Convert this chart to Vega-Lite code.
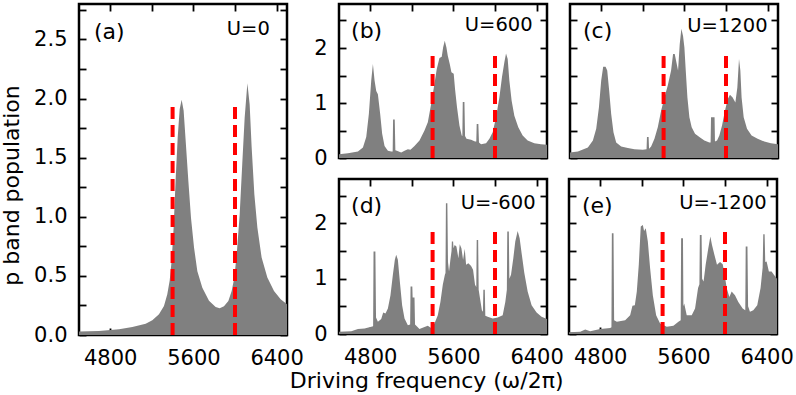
{
  "$schema": "https://vega.github.io/schema/vega-lite/v6.json",
  "autosize": {"type": "pad"},
  "padding": {"left": -2, "top": -3, "right": 0, "bottom": 0},
  "background": "white",
  "title": {"text": "Driving frequency (ω/2π)", "orient": "bottom", "anchor": "middle", "dx": 30, "offset": 2, "fontSize": 22, "font": "DejaVu Sans", "fontWeight": "normal", "color": "#000000"},
  "datasets": {
    "a": [{"f":4500,"p":0.03},{"f":4692,"p":0.034},{"f":4885,"p":0.048},{"f":5013,"p":0.068},{"f":5141,"p":0.096},{"f":5205,"p":0.124},{"f":5269,"p":0.175},{"f":5317,"p":0.246},{"f":5349,"p":0.345},{"f":5372,"p":0.46},{"f":5391,"p":0.63},{"f":5410,"p":0.91},{"f":5429,"p":1.31},{"f":5449,"p":1.67},{"f":5468,"p":1.91},{"f":5487,"p":1.99},{"f":5506,"p":1.9},{"f":5526,"p":1.64},{"f":5551,"p":1.31},{"f":5577,"p":0.99},{"f":5606,"p":0.74},{"f":5638,"p":0.54},{"f":5686,"p":0.4},{"f":5750,"p":0.29},{"f":5814,"p":0.237},{"f":5853,"p":0.226},{"f":5894,"p":0.243},{"f":5936,"p":0.288},{"f":5968,"p":0.373},{"f":5994,"p":0.486},{"f":6019,"p":0.71},{"f":6045,"p":1.02},{"f":6070,"p":1.45},{"f":6093,"p":1.84},{"f":6119,"p":2.13},{"f":6141,"p":1.95},{"f":6160,"p":1.59},{"f":6186,"p":1.19},{"f":6215,"p":0.91},{"f":6256,"p":0.655},{"f":6311,"p":0.486},{"f":6375,"p":0.373},{"f":6439,"p":0.302},{"f":6500,"p":0.26}],
    "b": [{"f":4500,"p":0.07},{"f":4586,"p":0.085},{"f":4682,"p":0.12},{"f":4730,"p":0.19},{"f":4762,"p":0.38},{"f":4787,"p":0.8},{"f":4810,"p":1.41},{"f":4826,"p":1.71},{"f":4842,"p":1.41},{"f":4858,"p":1.22},{"f":4874,"p":1.16},{"f":4896,"p":0.8},{"f":4915,"p":0.44},{"f":4938,"p":0.22},{"f":4970,"p":0.13},{"f":5002,"p":0.12},{"f":5016,"p":0.12},{"f":5020,"p":0.7},{"f":5036,"p":0.7},{"f":5042,"p":0.14},{"f":5056,"p":0.13},{"f":5098,"p":0.1},{"f":5130,"p":0.13},{"f":5162,"p":0.16},{"f":5187,"p":0.15},{"f":5226,"p":0.22},{"f":5274,"p":0.32},{"f":5322,"p":0.5},{"f":5354,"p":0.65},{"f":5386,"p":0.98},{"f":5418,"p":1.35},{"f":5440,"p":1.62},{"f":5466,"p":1.82},{"f":5488,"p":1.84},{"f":5501,"p":2.01},{"f":5517,"p":2.13},{"f":5533,"p":2.01},{"f":5546,"p":1.86},{"f":5565,"p":1.71},{"f":5581,"p":1.56},{"f":5603,"p":1.53},{"f":5616,"p":1.25},{"f":5635,"p":0.92},{"f":5658,"p":0.59},{"f":5680,"p":0.41},{"f":5686,"p":0.4},{"f":5690,"p":1.02},{"f":5706,"p":1.02},{"f":5712,"p":0.4},{"f":5726,"p":0.35},{"f":5770,"p":0.33},{"f":5808,"p":0.3},{"f":5820,"p":0.3},{"f":5824,"p":0.62},{"f":5840,"p":0.62},{"f":5846,"p":0.28},{"f":5866,"p":0.25},{"f":5914,"p":0.27},{"f":5946,"p":0.35},{"f":5978,"p":0.47},{"f":6010,"p":0.74},{"f":6042,"p":1.1},{"f":6067,"p":1.47},{"f":6090,"p":1.74},{"f":6106,"p":1.9},{"f":6122,"p":1.8},{"f":6138,"p":1.41},{"f":6160,"p":1.04},{"f":6186,"p":0.77},{"f":6224,"p":0.56},{"f":6266,"p":0.41},{"f":6314,"p":0.32},{"f":6378,"p":0.27},{"f":6442,"p":0.25},{"f":6500,"p":0.24}],
    "c": [{"f":4500,"p":0.1},{"f":4576,"p":0.12},{"f":4672,"p":0.19},{"f":4720,"p":0.32},{"f":4752,"p":0.53},{"f":4778,"p":0.92},{"f":4800,"p":1.41},{"f":4819,"p":1.66},{"f":4842,"p":1.66},{"f":4858,"p":1.59},{"f":4877,"p":1.22},{"f":4896,"p":0.8},{"f":4918,"p":0.47},{"f":4944,"p":0.28},{"f":4992,"p":0.21},{"f":5056,"p":0.18},{"f":5120,"p":0.16},{"f":5200,"p":0.15},{"f":5236,"p":0.16},{"f":5240,"p":0.38},{"f":5256,"p":0.38},{"f":5260,"p":0.17},{"f":5280,"p":0.21},{"f":5312,"p":0.35},{"f":5344,"p":0.56},{"f":5376,"p":0.86},{"f":5408,"p":1.1},{"f":5440,"p":1.32},{"f":5472,"p":1.59},{"f":5491,"p":1.89},{"f":5507,"p":1.89},{"f":5523,"p":1.74},{"f":5539,"p":1.59},{"f":5555,"p":2.07},{"f":5571,"p":2.35},{"f":5587,"p":2.22},{"f":5600,"p":2.01},{"f":5613,"p":1.59},{"f":5629,"p":1.1},{"f":5648,"p":0.74},{"f":5670,"p":0.56},{"f":5702,"p":0.44},{"f":5744,"p":0.38},{"f":5792,"p":0.32},{"f":5840,"p":0.28},{"f":5852,"p":0.28},{"f":5856,"p":0.74},{"f":5890,"p":0.74},{"f":5894,"p":0.3},{"f":5914,"p":0.32},{"f":5936,"p":0.41},{"f":5962,"p":0.59},{"f":5990,"p":0.86},{"f":6016,"p":1.07},{"f":6038,"p":1.15},{"f":6064,"p":1.1},{"f":6090,"p":1.01},{"f":6109,"p":1.28},{"f":6125,"p":1.8},{"f":6138,"p":1.59},{"f":6150,"p":1.1},{"f":6170,"p":0.74},{"f":6202,"p":0.53},{"f":6246,"p":0.41},{"f":6304,"p":0.35},{"f":6368,"p":0.3},{"f":6432,"p":0.27},{"f":6500,"p":0.25}],
    "d": [{"f":4500,"p":0.04},{"f":4618,"p":0.05},{"f":4682,"p":0.09},{"f":4746,"p":0.1},{"f":4810,"p":0.13},{"f":4828,"p":0.14},{"f":4832,"p":1.49},{"f":4850,"p":1.49},{"f":4856,"p":0.3},{"f":4874,"p":0.22},{"f":4906,"p":0.27},{"f":4925,"p":0.39},{"f":4947,"p":0.37},{"f":4970,"p":0.46},{"f":4995,"p":0.7},{"f":5018,"p":1.07},{"f":5037,"p":1.34},{"f":5050,"p":1.43},{"f":5066,"p":1.34},{"f":5085,"p":0.95},{"f":5107,"p":0.52},{"f":5130,"p":0.28},{"f":5162,"p":0.16},{"f":5184,"p":0.17},{"f":5188,"p":0.86},{"f":5205,"p":0.86},{"f":5208,"p":0.66},{"f":5226,"p":0.66},{"f":5231,"p":0.17},{"f":5274,"p":0.09},{"f":5328,"p":0.13},{"f":5354,"p":0.15},{"f":5386,"p":0.11},{"f":5418,"p":0.19},{"f":5450,"p":0.34},{"f":5475,"p":0.58},{"f":5498,"p":0.89},{"f":5518,"p":1.07},{"f":5524,"p":1.1},{"f":5528,"p":2.36},{"f":5542,"p":2.36},{"f":5548,"p":1.3},{"f":5558,"p":1.13},{"f":5571,"p":1.34},{"f":5582,"p":1.5},{"f":5585,"p":1.67},{"f":5597,"p":1.67},{"f":5601,"p":1.55},{"f":5612,"p":1.61},{"f":5629,"p":1.58},{"f":5648,"p":1.37},{"f":5661,"p":1.62},{"f":5677,"p":1.55},{"f":5693,"p":1.34},{"f":5709,"p":1.54},{"f":5722,"p":1.25},{"f":5744,"p":1.28},{"f":5770,"p":1.23},{"f":5789,"p":1.16},{"f":5808,"p":0.89},{"f":5820,"p":0.85},{"f":5824,"p":1.7},{"f":5838,"p":1.7},{"f":5843,"p":0.8},{"f":5856,"p":0.64},{"f":5874,"p":0.43},{"f":5884,"p":0.4},{"f":5888,"p":0.8},{"f":5902,"p":0.8},{"f":5907,"p":0.33},{"f":5930,"p":0.31},{"f":5978,"p":0.28},{"f":6026,"p":0.3},{"f":6074,"p":0.34},{"f":6099,"p":0.58},{"f":6114,"p":0.8},{"f":6118,"p":1.85},{"f":6133,"p":1.85},{"f":6138,"p":1.0},{"f":6154,"p":1.07},{"f":6176,"p":1.37},{"f":6195,"p":1.67},{"f":6218,"p":1.86},{"f":6237,"p":1.73},{"f":6256,"p":1.46},{"f":6282,"p":1.1},{"f":6314,"p":0.77},{"f":6352,"p":0.52},{"f":6400,"p":0.39},{"f":6448,"p":0.31},{"f":6500,"p":0.27}],
    "e": [{"f":4500,"p":0.03},{"f":4608,"p":0.04},{"f":4656,"p":0.08},{"f":4704,"p":0.05},{"f":4800,"p":0.09},{"f":4896,"p":0.11},{"f":4908,"p":0.12},{"f":4912,"p":1.82},{"f":4928,"p":1.82},{"f":4934,"p":0.25},{"f":4960,"p":0.22},{"f":5040,"p":0.25},{"f":5088,"p":0.34},{"f":5110,"p":0.51},{"f":5133,"p":0.52},{"f":5152,"p":0.77},{"f":5171,"p":1.25},{"f":5190,"p":1.94},{"f":5210,"p":1.97},{"f":5222,"p":1.86},{"f":5238,"p":1.91},{"f":5258,"p":1.67},{"f":5280,"p":1.19},{"f":5306,"p":0.7},{"f":5338,"p":0.34},{"f":5376,"p":0.19},{"f":5440,"p":0.13},{"f":5504,"p":0.15},{"f":5552,"p":0.22},{"f":5574,"p":0.25},{"f":5578,"p":1.73},{"f":5596,"p":1.73},{"f":5600,"p":0.5},{"f":5608,"p":0.55},{"f":5632,"p":0.34},{"f":5680,"p":0.34},{"f":5712,"p":0.46},{"f":5741,"p":0.83},{"f":5754,"p":0.9},{"f":5758,"p":1.79},{"f":5775,"p":1.79},{"f":5780,"p":1.0},{"f":5794,"p":0.95},{"f":5814,"p":1.25},{"f":5837,"p":1.52},{"f":5859,"p":1.76},{"f":5875,"p":1.61},{"f":5898,"p":1.43},{"f":5923,"p":1.25},{"f":5952,"p":1.3},{"f":5978,"p":1.26},{"f":5997,"p":1.07},{"f":6016,"p":0.83},{"f":6042,"p":0.67},{"f":6064,"p":0.77},{"f":6096,"p":0.7},{"f":6128,"p":0.58},{"f":6170,"p":0.46},{"f":6195,"p":0.43},{"f":6199,"p":1.58},{"f":6216,"p":1.58},{"f":6222,"p":0.5},{"f":6240,"p":0.4},{"f":6272,"p":0.43},{"f":6310,"p":0.52},{"f":6342,"p":0.83},{"f":6362,"p":1.2},{"f":6368,"p":1.8},{"f":6381,"p":1.8},{"f":6387,"p":1.3},{"f":6400,"p":1.31},{"f":6422,"p":1.13},{"f":6448,"p":1.13},{"f":6470,"p":1.07},{"f":6500,"p":1.0}],
    "dash": [{"f":5400},{"f":6000}],
    "one": [{"k":1}]
  },
  "spacing": 7,
  "hconcat": [
    {
      "width": 208, "height": 331,
      "layer": [
        {"data": {"name": "a"}, "mark": {"type": "area", "color": "#808080", "interpolate": "linear", "clip": true},
         "encoding": {
           "x": {"field": "f", "type": "quantitative", "scale": {"domain": [4500, 6500], "nice": false, "zero": false},
                 "axis": {"values": [4800, 5200, 5600, 6000, 6400], "labelExpr": "datum.value % 800 == 0 ? format(datum.value, 'd') : ''", "title": null}},
           "y": {"field": "p", "type": "quantitative", "scale": {"domain": [0, 2.8], "nice": false},
                 "axis": {"values": [0, 0.25, 0.5, 0.75, 1, 1.25, 1.5, 1.75, 2, 2.25, 2.5, 2.75], "labelExpr": "(datum.value * 2) % 1 == 0 ? format(datum.value, '.1f') : ''", "title": "p band population", "titleX": -68, "titleY": 181, "titleBaseline": "middle"}}
         }},
        {"data": {"name": "dash"}, "mark": {"type": "rule", "color": "#ff0000", "strokeWidth": 4, "strokeDash": [12, 6]},
         "encoding": {
           "x": {"field": "f", "type": "quantitative", "axis": {"orient": "top", "labels": false, "values": [4800, 5200, 5600, 6000, 6400], "title": null}},
           "y": {"datum": 0, "type": "quantitative", "axis": {"orient": "right", "labels": false, "values": [0, 0.25, 0.5, 0.75, 1, 1.25, 1.5, 1.75, 2, 2.25, 2.5, 2.75], "title": null}},
           "y2": {"datum": 1.95}
         }},
        {"data": {"name": "one"}, "mark": {"type": "text", "text": "(a)", "align": "left", "baseline": "middle", "fontSize": 22},
         "encoding": {"x": {"datum": 4644, "type": "quantitative", "axis": null}, "y": {"datum": 2.566, "type": "quantitative", "axis": null}}},
        {"data": {"name": "one"}, "mark": {"type": "text", "text": "U=0", "align": "right", "baseline": "middle", "fontSize": 19.5},
         "encoding": {"x": {"datum": 6335, "type": "quantitative", "axis": null}, "y": {"datum": 2.589, "type": "quantitative", "axis": null}}}
      ],
      "resolve": {"axis": {"x": "independent", "y": "independent"}}
    },
    {
      "spacing": 6,
      "vconcat": [
        {
          "spacing": 17,
          "hconcat": [
            {
              "width": 208, "height": 154,
              "layer": [
                {"data": {"name": "b"}, "mark": {"type": "area", "color": "#808080", "interpolate": "linear", "clip": true},
                 "encoding": {
                   "x": {"field": "f", "type": "quantitative", "scale": {"domain": [4500, 6500], "nice": false, "zero": false},
                         "axis": {"values": [4800, 5200, 5600, 6000, 6400], "labels": false, "title": null}},
                   "y": {"field": "p", "type": "quantitative", "scale": {"domain": [0, 2.8], "nice": false},
                         "axis": {"values": [0, 0.5, 1, 1.5, 2, 2.5], "labelExpr": "datum.value % 1 == 0 ? format(datum.value, 'd') : ''", "title": null}}
                 }},
                {"data": {"name": "dash"}, "mark": {"type": "rule", "color": "#ff0000", "strokeWidth": 4, "strokeDash": [12, 6]},
                 "encoding": {
                   "x": {"field": "f", "type": "quantitative", "axis": {"orient": "top", "labels": false, "values": [4800, 5200, 5600, 6000, 6400], "title": null}},
                   "y": {"datum": 0, "type": "quantitative", "axis": {"orient": "right", "labels": false, "values": [0, 0.5, 1, 1.5, 2, 2.5], "title": null}},
                   "y2": {"datum": 1.95}
                 }},
                {"data": {"name": "one"}, "mark": {"type": "text", "text": "(b)", "align": "left", "baseline": "middle", "fontSize": 22},
                 "encoding": {"x": {"datum": 4616, "type": "quantitative", "axis": null}, "y": {"datum": 2.315, "type": "quantitative", "axis": null}}},
                {"data": {"name": "one"}, "mark": {"type": "text", "text": "U=600", "align": "right", "baseline": "middle", "fontSize": 19.5},
                 "encoding": {"x": {"datum": 6362, "type": "quantitative", "axis": null}, "y": {"datum": 2.41, "type": "quantitative", "axis": null}}}
              ],
              "resolve": {"axis": {"x": "independent", "y": "independent"}}
            },
            {
              "width": 208, "height": 154,
              "layer": [
                {"data": {"name": "c"}, "mark": {"type": "area", "color": "#808080", "interpolate": "linear", "clip": true},
                 "encoding": {
                   "x": {"field": "f", "type": "quantitative", "scale": {"domain": [4500, 6500], "nice": false, "zero": false},
                         "axis": {"values": [4800, 5200, 5600, 6000, 6400], "labels": false, "title": null}},
                   "y": {"field": "p", "type": "quantitative", "scale": {"domain": [0, 2.8], "nice": false},
                         "axis": {"values": [0, 0.5, 1, 1.5, 2, 2.5], "labels": false, "title": null}}
                 }},
                {"data": {"name": "dash"}, "mark": {"type": "rule", "color": "#ff0000", "strokeWidth": 4, "strokeDash": [12, 6]},
                 "encoding": {
                   "x": {"field": "f", "type": "quantitative", "axis": {"orient": "top", "labels": false, "values": [4800, 5200, 5600, 6000, 6400], "title": null}},
                   "y": {"datum": 0, "type": "quantitative", "axis": {"orient": "right", "labels": false, "values": [0, 0.5, 1, 1.5, 2, 2.5], "title": null}},
                   "y2": {"datum": 1.95}
                 }},
                {"data": {"name": "one"}, "mark": {"type": "text", "text": "(c)", "align": "left", "baseline": "middle", "fontSize": 22},
                 "encoding": {"x": {"datum": 4625, "type": "quantitative", "axis": null}, "y": {"datum": 2.315, "type": "quantitative", "axis": null}}},
                {"data": {"name": "one"}, "mark": {"type": "text", "text": "U=1200", "align": "right", "baseline": "middle", "fontSize": 19.5},
                 "encoding": {"x": {"datum": 6400, "type": "quantitative", "axis": null}, "y": {"datum": 2.4, "type": "quantitative", "axis": null}}}
              ],
              "resolve": {"axis": {"x": "independent", "y": "independent"}}
            }
          ]
        },
        {
          "spacing": 1,
          "hconcat": [
            {
              "width": 208, "height": 155,
              "layer": [
                {"data": {"name": "d"}, "mark": {"type": "area", "color": "#808080", "interpolate": "linear", "clip": true},
                 "encoding": {
                   "x": {"field": "f", "type": "quantitative", "scale": {"domain": [4500, 6500], "nice": false, "zero": false},
                         "axis": {"values": [4800, 5200, 5600, 6000, 6400], "labelExpr": "datum.value % 800 == 0 ? format(datum.value, 'd') : ''", "title": null}},
                   "y": {"field": "p", "type": "quantitative", "scale": {"domain": [0, 2.8], "nice": false},
                         "axis": {"values": [0, 0.5, 1, 1.5, 2, 2.5], "labelExpr": "datum.value % 1 == 0 ? format(datum.value, 'd') : ''", "title": null}}
                 }},
                {"data": {"name": "dash"}, "mark": {"type": "rule", "color": "#ff0000", "strokeWidth": 4, "strokeDash": [12, 6]},
                 "encoding": {
                   "x": {"field": "f", "type": "quantitative", "axis": {"orient": "top", "labels": false, "values": [4800, 5200, 5600, 6000, 6400], "title": null}},
                   "y": {"datum": 0, "type": "quantitative", "axis": {"orient": "right", "labels": false, "values": [0, 0.5, 1, 1.5, 2, 2.5], "title": null}},
                   "y2": {"datum": 1.95}
                 }},
                {"data": {"name": "one"}, "mark": {"type": "text", "text": "(d)", "align": "left", "baseline": "middle", "fontSize": 22},
                 "encoding": {"x": {"datum": 4616, "type": "quantitative", "axis": null}, "y": {"datum": 2.32, "type": "quantitative", "axis": null}}},
                {"data": {"name": "one"}, "mark": {"type": "text", "text": "U=-600", "align": "right", "baseline": "middle", "fontSize": 19.5},
                 "encoding": {"x": {"datum": 6390, "type": "quantitative", "axis": null}, "y": {"datum": 2.36, "type": "quantitative", "axis": null}}}
              ],
              "resolve": {"axis": {"x": "independent", "y": "independent"}}
            },
            {
              "width": 208, "height": 155,
              "layer": [
                {"data": {"name": "e"}, "mark": {"type": "area", "color": "#808080", "interpolate": "linear", "clip": true},
                 "encoding": {
                   "x": {"field": "f", "type": "quantitative", "scale": {"domain": [4500, 6500], "nice": false, "zero": false},
                         "axis": {"values": [4800, 5200, 5600, 6000, 6400], "labelExpr": "datum.value % 800 == 0 ? format(datum.value, 'd') : ''", "title": null}},
                   "y": {"field": "p", "type": "quantitative", "scale": {"domain": [0, 2.8], "nice": false},
                         "axis": {"values": [0, 0.5, 1, 1.5, 2, 2.5], "labels": false, "title": null}}
                 }},
                {"data": {"name": "dash"}, "mark": {"type": "rule", "color": "#ff0000", "strokeWidth": 4, "strokeDash": [12, 6]},
                 "encoding": {
                   "x": {"field": "f", "type": "quantitative", "axis": {"orient": "top", "labels": false, "values": [4800, 5200, 5600, 6000, 6400], "title": null}},
                   "y": {"datum": 0, "type": "quantitative", "axis": {"orient": "right", "labels": false, "values": [0, 0.5, 1, 1.5, 2, 2.5], "title": null}},
                   "y2": {"datum": 1.95}
                 }},
                {"data": {"name": "one"}, "mark": {"type": "text", "text": "(e)", "align": "left", "baseline": "middle", "fontSize": 22},
                 "encoding": {"x": {"datum": 4625, "type": "quantitative", "axis": null}, "y": {"datum": 2.32, "type": "quantitative", "axis": null}}},
                {"data": {"name": "one"}, "mark": {"type": "text", "text": "U=-1200", "align": "right", "baseline": "middle", "fontSize": 19.5},
                 "encoding": {"x": {"datum": 6400, "type": "quantitative", "axis": null}, "y": {"datum": 2.36, "type": "quantitative", "axis": null}}}
              ],
              "resolve": {"axis": {"x": "independent", "y": "independent"}}
            }
          ]
        }
      ]
    }
  ],
  "config": {
    "font": "DejaVu Sans",
    "view": {"stroke": "#000000", "strokeWidth": 2.5},
    "text": {"font": "DejaVu Sans", "color": "#000000"},
    "axis": {
      "domain": false,
      "grid": false,
      "ticks": true,
      "tickColor": "#000000",
      "tickWidth": 1.8,
      "tickSize": -7,
      "labelFont": "DejaVu Sans",
      "labelFontSize": 21,
      "labelColor": "#000000",
      "labelPadding": 19,
      "labelOverlap": false,
      "labelFlush": false,
      "titleFont": "DejaVu Sans",
      "titleFontSize": 22,
      "titleFontWeight": "normal",
      "titleColor": "#000000",
      "minExtent": 0
    },
    "axisY": {"labelPadding": 19}
  }
}
